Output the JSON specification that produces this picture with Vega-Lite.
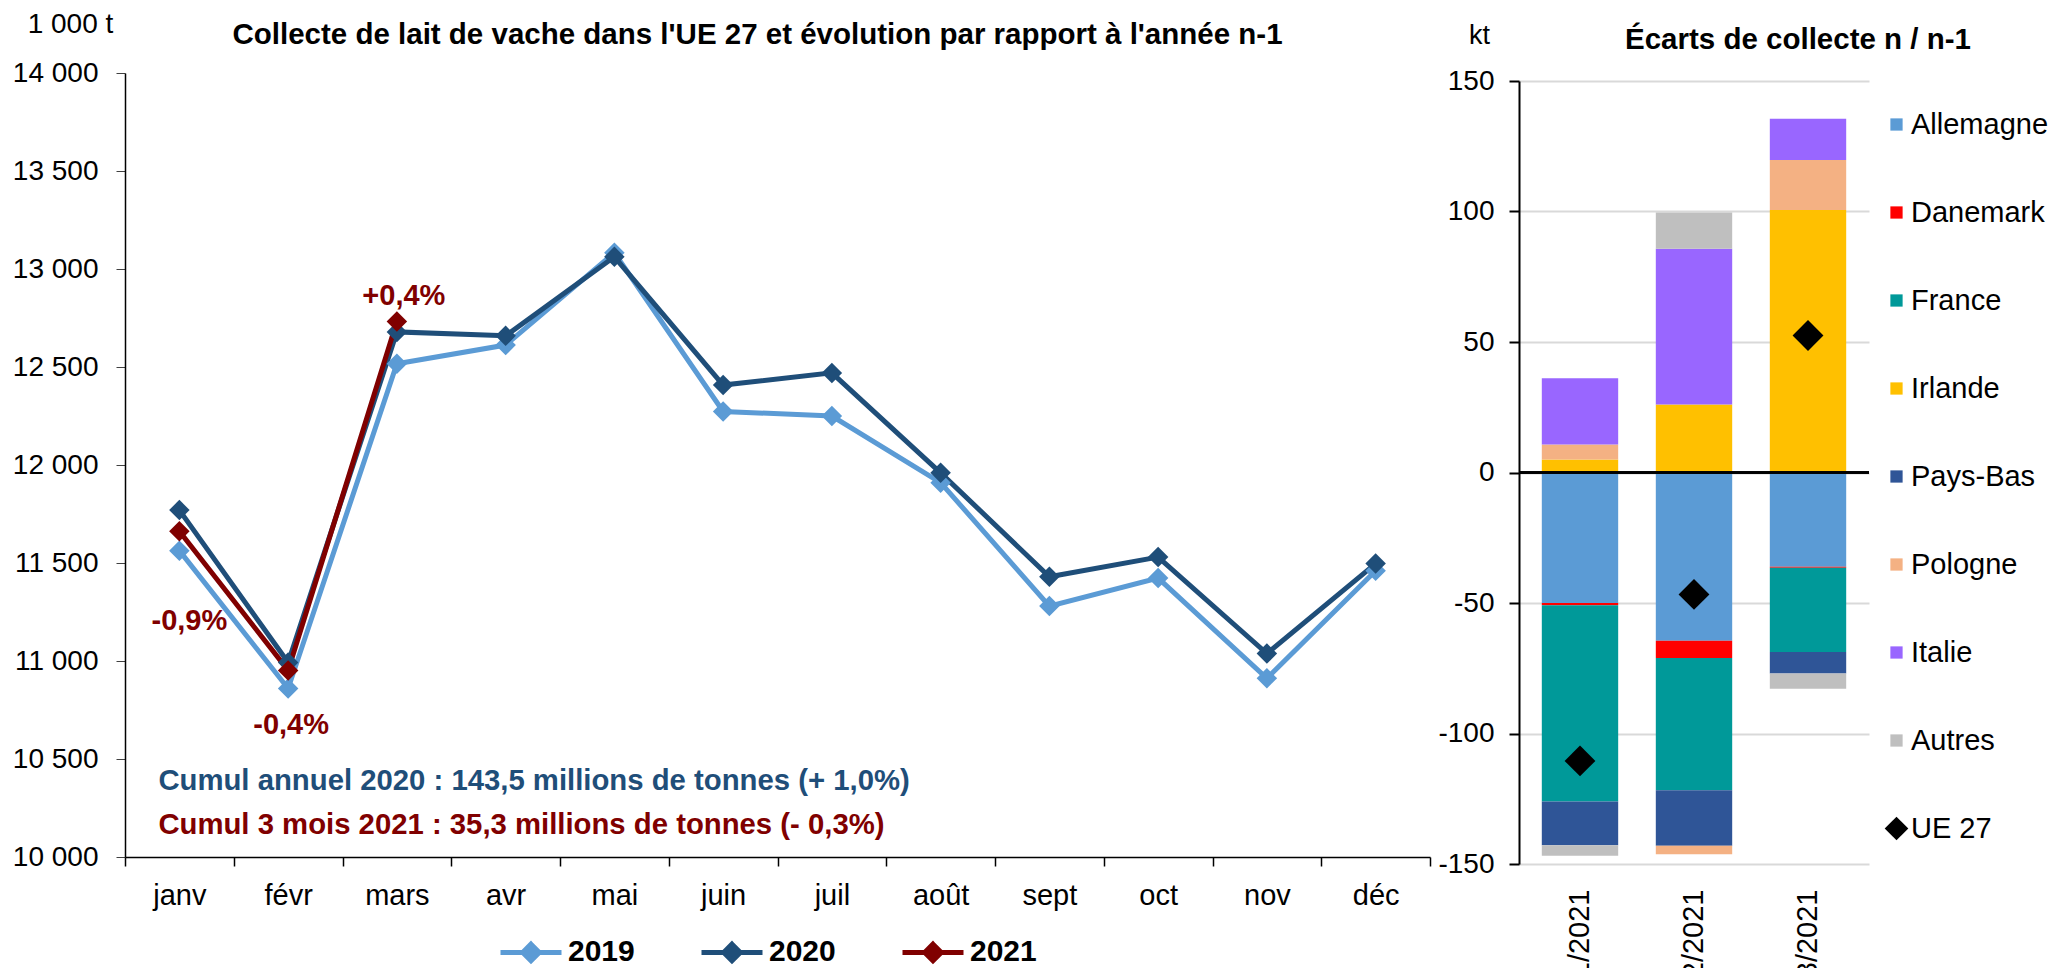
{
  "$schema": "https://vega.github.io/schema/vega-lite/v6.json",
  "padding": {"left": 12, "top": 10, "right": 2, "bottom": 2},
  "background": "white",
  "config": {
    "font": "Liberation Sans",
    "view": {"stroke": null},
    "axis": {"labelColor": "black", "titleColor": "black", "domainColor": "black", "tickColor": "black"}
  },
  "datasets": {
    "lait": [
      {"mois": "janv", "annee": "2019", "valeur": 11563},
      {"mois": "févr", "annee": "2019", "valeur": 10860},
      {"mois": "mars", "annee": "2019", "valeur": 12517},
      {"mois": "avr", "annee": "2019", "valeur": 12612},
      {"mois": "mai", "annee": "2019", "valeur": 13083},
      {"mois": "juin", "annee": "2019", "valeur": 12273},
      {"mois": "juil", "annee": "2019", "valeur": 12250},
      {"mois": "août", "annee": "2019", "valeur": 11910},
      {"mois": "sept", "annee": "2019", "valeur": 11280},
      {"mois": "oct", "annee": "2019", "valeur": 11423},
      {"mois": "nov", "annee": "2019", "valeur": 10912},
      {"mois": "déc", "annee": "2019", "valeur": 11460},
      {"mois": "janv", "annee": "2020", "valeur": 11770},
      {"mois": "févr", "annee": "2020", "valeur": 10992},
      {"mois": "mars", "annee": "2020", "valeur": 12679},
      {"mois": "avr", "annee": "2020", "valeur": 12659},
      {"mois": "mai", "annee": "2020", "valeur": 13062},
      {"mois": "juin", "annee": "2020", "valeur": 12408},
      {"mois": "juil", "annee": "2020", "valeur": 12470},
      {"mois": "août", "annee": "2020", "valeur": 11960},
      {"mois": "sept", "annee": "2020", "valeur": 11430},
      {"mois": "oct", "annee": "2020", "valeur": 11530},
      {"mois": "nov", "annee": "2020", "valeur": 11038},
      {"mois": "déc", "annee": "2020", "valeur": 11497},
      {"mois": "janv", "annee": "2021", "valeur": 11662, "evol": "-0,9%"},
      {"mois": "févr", "annee": "2021", "valeur": 10952, "evol": "-0,4%"},
      {"mois": "mars", "annee": "2021", "valeur": 12732, "evol": "+0,4%"}
    ],
    "cumul": [
      {"mois": "janv", "valeur": 10388, "texte": "Cumul annuel 2020 : 143,5 millions de tonnes (+ 1,0%)", "annee": "2020"},
      {"mois": "janv", "valeur": 10163, "texte": "Cumul 3 mois 2021 : 35,3 millions de tonnes (- 0,3%)", "annee": "2021"}
    ],
    "ecarts": [
      {"mois": "1/2021", "pays": "Allemagne", "rang": 1, "ecart": -50.0},
      {"mois": "1/2021", "pays": "Danemark", "rang": 2, "ecart": -0.9},
      {"mois": "1/2021", "pays": "France", "rang": 3, "ecart": -75.2},
      {"mois": "1/2021", "pays": "Irlande", "rang": 4, "ecart": 5.0},
      {"mois": "1/2021", "pays": "Pays-Bas", "rang": 5, "ecart": -16.7},
      {"mois": "1/2021", "pays": "Pologne", "rang": 6, "ecart": 5.7},
      {"mois": "1/2021", "pays": "Italie", "rang": 7, "ecart": 25.4},
      {"mois": "1/2021", "pays": "Autres", "rang": 8, "ecart": -4.0},
      {"mois": "2/2021", "pays": "Allemagne", "rang": 1, "ecart": -64.5},
      {"mois": "2/2021", "pays": "Danemark", "rang": 2, "ecart": -6.6},
      {"mois": "2/2021", "pays": "France", "rang": 3, "ecart": -50.6},
      {"mois": "2/2021", "pays": "Irlande", "rang": 4, "ecart": 26.1},
      {"mois": "2/2021", "pays": "Pays-Bas", "rang": 5, "ecart": -21.3},
      {"mois": "2/2021", "pays": "Pologne", "rang": 6, "ecart": -3.3},
      {"mois": "2/2021", "pays": "Italie", "rang": 7, "ecart": 59.6},
      {"mois": "2/2021", "pays": "Autres", "rang": 8, "ecart": 13.9},
      {"mois": "3/2021", "pays": "Allemagne", "rang": 1, "ecart": -36.1},
      {"mois": "3/2021", "pays": "Danemark", "rang": 2, "ecart": -0.4},
      {"mois": "3/2021", "pays": "France", "rang": 3, "ecart": -32.3},
      {"mois": "3/2021", "pays": "Irlande", "rang": 4, "ecart": 100.6},
      {"mois": "3/2021", "pays": "Pays-Bas", "rang": 5, "ecart": -8.2},
      {"mois": "3/2021", "pays": "Pologne", "rang": 6, "ecart": 19.1},
      {"mois": "3/2021", "pays": "Italie", "rang": 7, "ecart": 15.8},
      {"mois": "3/2021", "pays": "Autres", "rang": 8, "ecart": -5.9}
    ],
    "ue": [
      {"mois": "1/2021", "ecart": -110.5},
      {"mois": "2/2021", "ecart": -46.7},
      {"mois": "3/2021", "ecart": 52.5}
    ]
  },
  "hconcat": [
    {
      "width": 1305,
      "height": 784,
      "title": {
        "text": "Collecte de lait de vache dans l'UE 27 et évolution par rapport à l'année n-1",
        "fontSize": 29.5, "fontWeight": "bold", "color": "black", "anchor": "middle", "frame": "group", "dx": -20, "offset": -40
      },
      "layer": [
        {
          "mark": {"type": "rect", "fill": "white"},
          "encoding": {
            "x": {"datum": "janv", "type": "nominal", "bandPosition": 0.22},
            "x2": {"datum": "sept", "bandPosition": 0.84},
            "y": {"datum": 10570, "type": "quantitative"},
            "y2": {"datum": 10040}
          }
        },
        {
          "data": {"name": "lait"},
          "encoding": {
            "x": {
              "field": "mois", "type": "nominal",
              "scale": {"type": "band", "domain": ["janv", "févr", "mars", "avr", "mai", "juin", "juil", "août", "sept", "oct", "nov", "déc"], "paddingInner": 0, "paddingOuter": 0},
              "axis": {"title": null, "labelAngle": 0, "labelAlign": "center", "labelBaseline": "top", "labelFontSize": 29, "labelPadding": 15, "tickBand": "extent", "tickSize": 9, "domainWidth": 1.5, "tickWidth": 1.5, "grid": false}
            },
            "y": {
              "field": "valeur", "type": "quantitative",
              "scale": {"domain": [10000, 14000], "nice": false, "zero": false},
              "axis": {
                "values": [10000, 10500, 11000, 11500, 12000, 12500, 13000, 13500, 14000],
                "labelExpr": "replace(format(datum.value, ','), ',', ' ')",
                "labelFontSize": 28, "labelPadding": 18, "tickSize": 9, "tickColor": "#404040", "domainWidth": 1.5,
                "gridColor": "#D9D9D9", "gridWidth": 1.5,
                "title": "1 000 t", "titleAngle": 0, "titleFontSize": 28, "titleFontWeight": "normal",
                "titleAlign": "center", "titleBaseline": "middle", "titleX": -55, "titleY": -49
              }
            },
            "color": {
              "field": "annee", "type": "nominal",
              "scale": {"domain": ["2019", "2020", "2021"], "range": ["#5B9BD5", "#1F4E79", "#800000"]},
              "legend": {
                "title": null, "orient": "none", "direction": "horizontal", "legendX": 373, "legendY": 846,
                "symbolType": "M-1,0L1,0M0,-0.27L0.27,0L0,0.27L-0.27,0Z",
                "symbolSize": 3721, "symbolStrokeWidth": 5,
                "labelFontSize": 30, "labelFontWeight": "bold", "labelColor": "black", "labelOffset": 4, "columnPadding": 56,
                "encode": {
                  "symbols": {"update": {
                    "fill": {"signal": "datum.value === '2019' ? '#5B9BD5' : datum.value === '2020' ? '#1F4E79' : '#800000'"},
                    "stroke": {"signal": "datum.value === '2019' ? '#5B9BD5' : datum.value === '2020' ? '#1F4E79' : '#800000'"},
                    "opacity": {"value": 1}
                  }}
                }
              }
            }
          },
          "layer": [
            {"mark": {"type": "line", "strokeWidth": 5}},
            {"mark": {"type": "point", "shape": "diamond", "filled": true, "size": 420, "opacity": 1}}
          ]
        },
        {
          "data": {"name": "lait"},
          "transform": [{"filter": "datum.evol === '-0,9%'"}],
          "mark": {"type": "text", "fontSize": 29, "fontWeight": "bold", "color": "#800000", "baseline": "middle", "dx": 10, "dy": 90},
          "encoding": {"x": {"field": "mois", "type": "nominal"}, "y": {"field": "valeur", "type": "quantitative"}, "text": {"field": "evol"}}
        },
        {
          "data": {"name": "lait"},
          "transform": [{"filter": "datum.evol === '-0,4%'"}],
          "mark": {"type": "text", "fontSize": 29, "fontWeight": "bold", "color": "#800000", "baseline": "middle", "dx": 3, "dy": 55},
          "encoding": {"x": {"field": "mois", "type": "nominal"}, "y": {"field": "valeur", "type": "quantitative"}, "text": {"field": "evol"}}
        },
        {
          "data": {"name": "lait"},
          "transform": [{"filter": "datum.evol === '+0,4%'"}],
          "mark": {"type": "text", "fontSize": 29, "fontWeight": "bold", "color": "#800000", "baseline": "middle", "dx": 7, "dy": -26},
          "encoding": {"x": {"field": "mois", "type": "nominal"}, "y": {"field": "valeur", "type": "quantitative"}, "text": {"field": "evol"}}
        },
        {
          "data": {"name": "cumul"},
          "mark": {"type": "text", "fontSize": 29.3, "fontWeight": "bold", "align": "left", "baseline": "middle", "dx": -21},
          "encoding": {
            "x": {"field": "mois", "type": "nominal"},
            "y": {"field": "valeur", "type": "quantitative"},
            "text": {"field": "texte"},
            "color": {"field": "annee", "type": "nominal", "legend": null}
          }
        }
      ]
    },
    {
      "width": 350,
      "height": 791,
      "title": {
        "text": "Écarts de collecte n / n-1",
        "fontSize": 29.5, "fontWeight": "bold", "color": "black", "anchor": "middle", "frame": "group", "dx": 104, "offset": -34.5
      },
      "layer": [
        {
          "data": {"name": "ecarts"},
          "mark": {"type": "bar"},
          "encoding": {
            "x": {
              "field": "mois", "type": "nominal",
              "scale": {"domain": ["1/2021", "2/2021", "3/2021"], "paddingInner": 0.33, "paddingOuter": 0.2},
              "axis": {"title": null, "labelAngle": -90, "labelFontSize": 29, "labelPadding": 25, "domain": false, "ticks": false}
            },
            "y": {
              "field": "ecart", "type": "quantitative", "aggregate": "sum", "stack": "zero",
              "scale": {"domain": [-150, 150], "nice": false, "range": [791, 8]},
              "axis": {
                "values": [-150, -100, -50, 0, 50, 100, 150],
                "labelExpr": "'' + datum.value",
                "labelFontSize": 28, "labelPadding": 15, "tickSize": 10, "domainWidth": 2, "tickWidth": 2,
                "gridColor": "#D9D9D9", "gridWidth": 2,
                "title": "kt", "titleAngle": 0, "titleFontSize": 27, "titleFontWeight": "normal",
                "titleAlign": "center", "titleBaseline": "middle", "titleX": -40, "titleY": -38
              }
            },
            "color": {
              "field": "pays", "type": "nominal",
              "scale": {
                "domain": ["Allemagne", "Danemark", "France", "Irlande", "Pays-Bas", "Pologne", "Italie", "Autres", "UE 27"],
                "range": ["#5B9BD5", "#FF0000", "#009999", "#FFC000", "#2F5597", "#F4B183", "#9966FF", "#BFBFBF", "#000000"]
              },
              "legend": {
                "title": null, "orient": "none", "legendX": 363, "legendY": 37,
                "symbolType": "square", "symbolSize": 150, "symbolStrokeWidth": 0,
                "labelFontSize": 29, "labelColor": "black", "labelOffset": 0, "rowPadding": 58,
                "encode": {
                  "symbols": {"update": {
                    "shape": {"signal": "datum.value === 'UE 27' ? 'diamond' : 'square'"},
                    "size": {"signal": "datum.value === 'UE 27' ? 560 : 150"},
                    "opacity": {"value": 1}
                  }}
                }
              }
            },
            "order": {"field": "rang", "type": "quantitative"}
          }
        },
        {
          "data": {"name": "ue"},
          "mark": {"type": "rule", "color": "black", "strokeWidth": 2.5},
          "encoding": {"y": {"datum": 0, "type": "quantitative"}}
        },
        {
          "data": {"name": "ue"},
          "mark": {"type": "point", "shape": "diamond", "filled": true, "color": "black", "size": 950, "opacity": 1},
          "encoding": {
            "x": {"field": "mois", "type": "nominal"},
            "y": {"field": "ecart", "type": "quantitative"}
          }
        }
      ]
    }
  ],
  "spacing": 6,
  "resolve": {"scale": {"color": "independent", "x": "independent", "y": "independent"}, "legend": {"color": "independent"}}
}
